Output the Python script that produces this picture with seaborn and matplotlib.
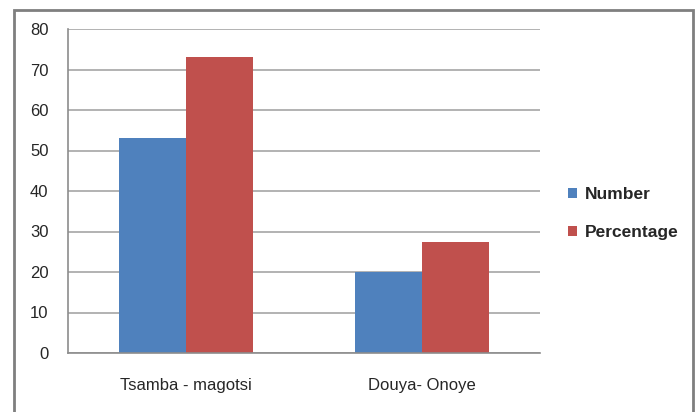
import pandas as pd
import seaborn as sns
import matplotlib.pyplot as plt
from matplotlib.patches import Rectangle

# data
sites = ['Tsamba - magotsi', 'Douya- Onoye']
number = [53, 20]
percentage = [73, 27.4]
series = ['Number', 'Percentage']
colors = ['#4F81BD', '#C0504D']

df = pd.DataFrame({
    'site': sites * 2,
    'series': ['Number'] * len(sites) + ['Percentage'] * len(sites),
    'value': number + percentage,
})

sns.set_style('white')
plt.rcParams['font.family'] = ['Liberation Sans', 'DejaVu Sans']

fig = plt.figure(figsize=(6.99, 4.12), dpi=100)
ax = fig.add_axes([68 / 699, 1 - 353 / 412, (540 - 68) / 699, (353 - 29) / 412])

sns.barplot(data=df, x='site', y='value', hue='series', palette=colors,
            width=0.565, gap=0, saturation=1, linewidth=0, ax=ax, legend=True)

ax.set_ylim(0, 80)
ax.set_yticks(range(0, 81, 10))
ax.set_xlim(-0.5, 1.5)
ax.set_xlabel('')
ax.set_ylabel('')
ax.yaxis.grid(True, color='#A6A6A6', linewidth=1.2)
ax.set_axisbelow(True)
for s in ['top', 'right']:
    ax.spines[s].set_visible(False)
for s in ['left', 'bottom']:
    ax.spines[s].set_color('#8C8C8C')
    ax.spines[s].set_linewidth(1.2)

# x ticks sit between categories, labels at category centres
ax.set_xticks([0, 1])
ax.set_xticklabels(sites, fontsize=12)
ax.set_xticks([-0.5, 0.5, 1.5], minor=True)
ax.tick_params(axis='x', which='major', length=0, pad=18)
ax.tick_params(axis='x', which='minor', length=6, color='#8C8C8C', width=1.2, direction='out')
ax.tick_params(axis='y', length=6, color='#8C8C8C', width=1.2, direction='out', labelsize=12, pad=8)

leg = ax.legend(loc='center left', bbox_to_anchor=(1.04, 0.43), frameon=False,
                prop={'weight': 'bold', 'size': 12.5}, handlelength=0.55, handleheight=0.55,
                handletextpad=0.45, labelspacing=1.3, borderpad=0)

# outer chart border (bottom edge runs off the image)
fig.patches.append(Rectangle((13.5 / 699, -10 / 412), (693 - 13.5) / 699, (412 - 9.5 + 10) / 412,
                             transform=fig.transFigure, fill=False,
                             edgecolor='#7F7F7F', linewidth=2))

fig.savefig('out.png', dpi=100)
